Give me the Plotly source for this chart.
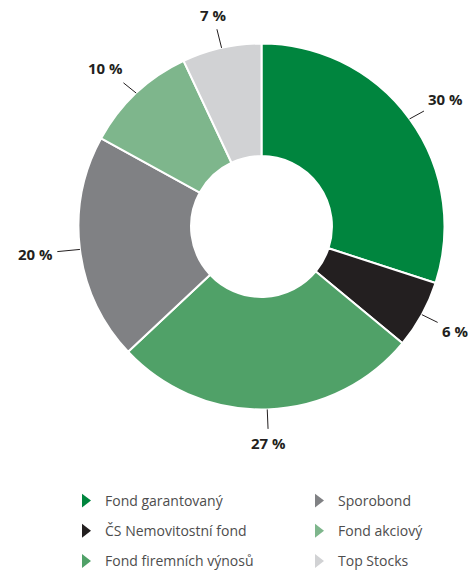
import math
import plotly.graph_objects as go

labels = ["Fond garantovaný", "ČS Nemovitostní fond", "Fond firemních výnosů",
          "Sporobond", "Fond akciový", "Top Stocks"]
values = [30, 6, 27, 20, 10, 7]
colors = ["#00853E", "#231F20", "#50A168", "#808184", "#7EB68C", "#D1D2D4"]
legend_columns = [["Fond garantovaný", "ČS Nemovitostní fond", "Fond firemních výnosů"],
                  ["Sporobond", "Fond akciový", "Top Stocks"]]

W, H = 476, 574
cx, cy, R = 261.5, 226.5, 183.0
dom_x = [(cx - R) / W, (cx + R) / W]
dom_y = [1 - (cy + R) / H, 1 - (cy - R) / H]

fig = go.Figure()
fig.add_trace(go.Pie(
    labels=labels, values=values, sort=False, direction="clockwise", rotation=0,
    hole=0.385, textinfo="none", showlegend=False,
    marker=dict(colors=colors, line=dict(color="#FFFFFF", width=2)),
    domain=dict(x=dom_x, y=dom_y),
))

# legend entries (triangle markers) in two columns
for col, names in enumerate(legend_columns):
    for name in names:
        fig.add_trace(go.Scatter(
            x=[None], y=[None], mode="markers", name=name,
            marker=dict(symbol="triangle-right", size=12, color=colors[labels.index(name)]),
            legend="legend" if col == 0 else "legend2", legendgroup=name,
            hoverinfo="skip",
        ))

# percentage labels with leader lines, placed from the slice mid-angles
total = sum(values)
cum = 0
annotations = []
for lab, v in zip(labels, values):
    mid = (cum + v / 2) / total * 2 * math.pi
    cum += v
    ux, uy = math.sin(mid), -math.cos(mid)
    tx, ty = cx + R * ux, cy + R * uy
    wx = 27 if v >= 10 else 20
    hy = 16
    ox = 18 * ux + wx * ux
    oy = 18 * uy + hy * uy
    annotations.append(dict(
        x=tx / W, y=1 - ty / H, xref="paper", yref="paper",
        ax=ox, ay=oy, axref="pixel", ayref="pixel",
        text=f"<b>{v} %</b>", showarrow=True, arrowhead=0, arrowwidth=1,
        arrowcolor="#231F20", standoff=0, borderpad=4,
        font=dict(family="Open Sans", size=15, color="#231F20"),
    ))

leg_common = dict(orientation="v", yanchor="top", xanchor="left", tracegroupgap=9,
                  font=dict(family="Open Sans", size=14, color="#4D4D4D"),
                  bgcolor="rgba(0,0,0,0)", borderwidth=0, itemclick=False, itemdoubleclick=False)

fig.update_layout(
    width=W, height=H, margin=dict(l=0, r=0, t=0, b=0, autoexpand=False),
    paper_bgcolor="#FFFFFF", plot_bgcolor="#FFFFFF",
    xaxis=dict(visible=False), yaxis=dict(visible=False),
    annotations=annotations,
    legend=dict(x=65 / W, y=1 - 485 / H, **leg_common),
    legend2=dict(x=298 / W, y=1 - 485 / H, **leg_common),
)

# remove the page's default body margin so the figure fills the window exactly
fig.write_html("out.html", config={"displayModeBar": False},
               post_script="document.body.style.margin='0px';")
